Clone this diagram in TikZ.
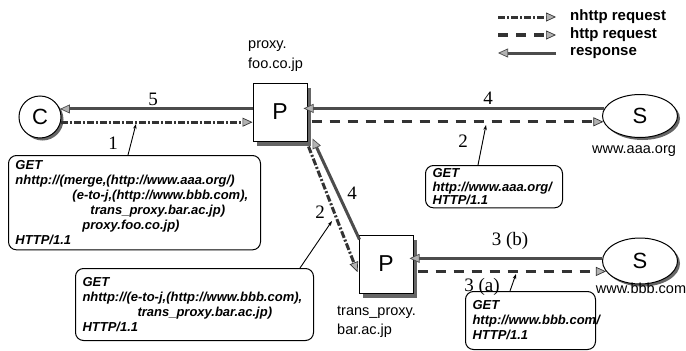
\documentclass[tikz,border=0pt]{standalone}
\usepackage{fontspec}
\setmainfont{Liberation Sans}
\newfontfamily\serifnum{Liberation Serif}
\usetikzlibrary{arrows.meta,shapes.geometric,calc,shadows}
\begin{document}
\begin{tikzpicture}[x=1pt,y=-1pt,
  lbl/.style={font=\fontsize{14.5}{16}\selectfont, inner sep=0pt},
  num/.style={font=\serifnum\fontsize{19}{20}\selectfont, inner sep=0pt},
  legtext/.style={font=\fontsize{15}{17}\selectfont\bfseries, inner sep=0pt, anchor=west},
  reqbox/.style={draw=black, line width=1pt, rounded corners=8pt, align=left, anchor=north west,
     font=\fontsize{13}{15}\selectfont\bfseries\itshape, inner xsep=7pt, inner ysep=5pt, fill=white},
  proxybox/.style={draw=black, line width=1pt, fill=white, minimum width=54pt, minimum height=58pt, inner sep=0pt,
     font=\fontsize{23}{25}\selectfont, drop shadow={shadow xshift=4pt, shadow yshift=-5pt, fill=black!60, opacity=1}},
  endnode/.style={draw=black, line width=1pt, fill=white, inner sep=0pt,
     font=\fontsize{22}{24}\selectfont, drop shadow={shadow xshift=2.5pt, shadow yshift=-2.5pt, fill=black!60, opacity=1}},
  tipA/.tip={Triangle[length=10pt,width=9pt,fill=black!30,line width=0.7pt]},
  nreq/.style={draw=black!80, line width=3pt, dash pattern=on 7pt off 2pt on 2pt off 2pt, -tipA},
  hreq/.style={draw=black!80, line width=3.2pt, dash pattern=on 10pt off 8pt, -tipA},
  resp/.style={draw=black!70, line width=3pt, -tipA},
  ptr/.style={draw=black, line width=0.9pt, -{Stealth[length=5pt,width=3.5pt]}}
]
\useasboundingbox (0,0) rectangle (686,351);
\fill[white] (0,0) rectangle (686,351);

% end nodes
\node[endnode, circle, minimum size=42pt] (C) at (40,117) {C};
\node[endnode, ellipse, minimum width=75pt, minimum height=43pt] (S1) at (640,116) {S};
\node[endnode, ellipse, minimum width=75pt, minimum height=46pt] (S2) at (640,261) {S};
\node[proxybox] (P1) at (280,112) {P};
\node[proxybox] (P2) at (386,264) {P};

% host labels
\node[lbl, anchor=west] (h1) at (248,46) {proxy.};
\node[lbl, anchor=west] (h2) at (248,65) {foo.co.jp};
\node[lbl] (h3) at (634,151) {www.aaa.org};
\node[lbl] (h4) at (641,288) {www.bbb.com};
\node[lbl, anchor=west] (h5) at (337,312) {trans\_proxy.};
\node[lbl, anchor=west] (h6) at (337,331) {bar.ac.jp};

% connectors C - P1
\draw[resp] (C.22 -| P1.west) -- (C.22);
\draw[nreq] (C.-14) -- (C.-14 -| P1.west);
% P1 - S1
\draw[resp, shorten >=-4pt] (S1.168.7) -- (S1.168.7 -| P1.east);
\draw[hreq, shorten <=4pt] (S1.189.6 -| P1.east) -- (S1.189.6);
% P1 - P2 diagonal
\draw[resp] ([xshift=1pt,yshift=-5pt]P2.north west) -- ([xshift=5pt,yshift=3pt]P1.south east);
\draw[nreq] ([xshift=1pt,yshift=-5pt]P1.south east) -- ([xshift=-1pt,yshift=-8pt]P2.west);
% P2 - S2
\draw[resp, shorten >=-4pt] (S2.176) -- (S2.176 -| P2.east);
\draw[hreq, shorten <=4pt] (S2.197 -| P2.east) -- (S2.197);

% request boxes
\node[reqbox, text width=238pt] (B1) at (8,155) {GET\\
nhttp://(merge,(http://www.aaa.org/)\\
\hspace*{57pt}(e-to-j,(http://www.bbb.com),\\
\hspace*{75pt}trans\_proxy.bar.ac.jp)\\
\hspace*{67pt}proxy.foo.co.jp)\\
HTTP/1.1};
\node[reqbox, text width=224pt, minimum height=72pt] (B2) at (75,268) {GET\\
nhttp://(e-to-j,(http://www.bbb.com),\\
\hspace*{55pt}trans\_proxy.bar.ac.jp)\\
HTTP/1.1};
\node[reqbox, text width=123pt, inner ysep=3pt, font=\fontsize{13}{13.5}\selectfont\bfseries\itshape] (B3) at (425,165) {GET\\
http://www.aaa.org/\\
HTTP/1.1};
\node[reqbox, text width=116pt, minimum height=58pt] (B4) at (465,291) {GET\\
http://www.bbb.com/\\
HTTP/1.1};

% pointers
\coordinate (t1) at (136,124);
\coordinate (t2) at (486,125);
\coordinate (t3) at (332,221);
\coordinate (t4) at (516,274);
\draw[ptr] ([xshift=120pt]B1.north west) -- (t1);
\draw[ptr] ([xshift=53pt]B3.north west) -- (t2);
\draw[ptr] ([xshift=225pt]B2.north west) -- (t3);
\draw[ptr] ([xshift=45pt]B4.north west) -- (t4);

% numbers
\node[num] (n5) at (153,99) {5};
\node[num] (n1) at (113,143) {1};
\node[num] (n4a) at (488,98) {4};
\node[num] (n2a) at (463,141) {2};
\node[num] (n4b) at (352,193) {4};
\node[num] (n2b) at (320,212) {2};
\node[num] (n3b) at (510,241) {3 (b)};
\node[num] (n3a) at (482,287) {3 (a)};

% legend
\coordinate (la1) at (498,17); \coordinate (lb1) at (556,17);
\coordinate (la2) at (498,35); \coordinate (lb2) at (556,35);
\coordinate (la3) at (498,53); \coordinate (lb3) at (556,53);
\draw[nreq] (la1) -- (lb1);
\draw[hreq] (la2) -- (lb2);
\draw[resp] (lb3) -- (la3);
\node[legtext] (g1) at (570,17) {nhttp request};
\node[legtext] (g2) at (570,35) {http request};
\node[legtext] (g3) at (570,53) {response};
\end{tikzpicture}
\end{document}
